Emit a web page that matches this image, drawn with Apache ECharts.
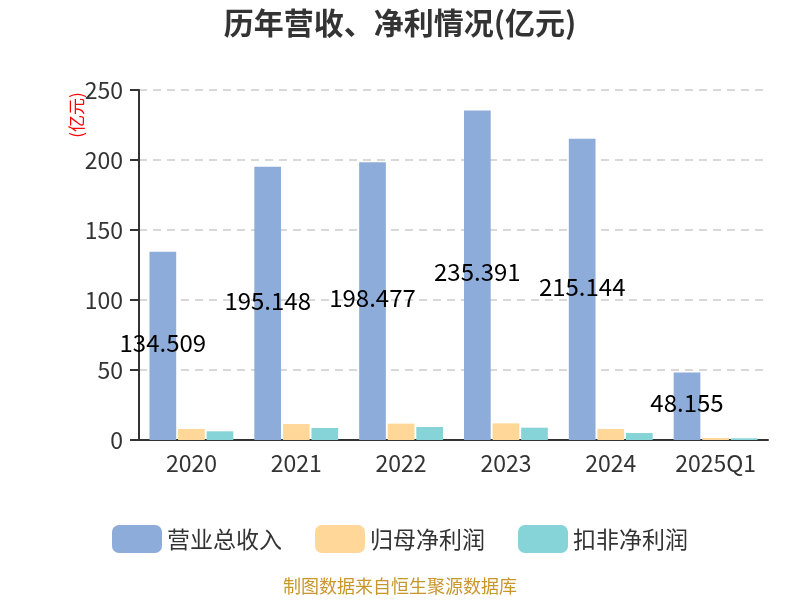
<!DOCTYPE html>
<html>
<head>
<meta charset="utf-8">
<script src="https://cdn.jsdelivr.net/npm/echarts@6/dist/echarts.min.js"></script>
<style>html,body{margin:0;padding:0;background:#fff}#c{width:800px;height:600px}</style>
</head>
<body>
<div id="c"></div>
<script>
const categories = ['2020', '2021', '2022', '2023', '2024', '2025Q1'];
const revenue = [134.509, 195.148, 198.477, 235.391, 215.144, 48.155];
const netProfit = [7.9, 11.4, 11.7, 11.9, 7.9, 1.4];
const deductedProfit = [6.2, 8.6, 9.3, 8.8, 5.0, 1.2];
const yTicks = [0, 50, 100, 150, 200, 250];

const font = '"Noto Sans CJK SC", "Noto Sans", sans-serif';
const chart = echarts.init(document.getElementById('c'));
chart.setOption({
  backgroundColor: '#fff',
  textStyle: { fontFamily: font },
  title: {
    text: '历年营收、净利情况(亿元)',
    left: 'center', top: 3,
    textStyle: { fontSize: 30, fontWeight: 'bold', color: '#333', fontFamily: font }
  },
  graphic: [
    {
      type: 'text', left: 'center', top: 577,
      style: { text: '制图数据来自恒生聚源数据库', fill: '#c9962b', fontSize: 18, fontFamily: font }
    },
    {
      type: 'text', x: 77, y: 115, rotation: Math.PI / 2,
      style: { text: '(亿元)', fill: '#ff0000', fontSize: 17, fontFamily: font, align: 'center', verticalAlign: 'middle' }
    }
  ],
  legend: {
    top: 520, left: 'center',
    itemWidth: 50, itemHeight: 28, itemGap: 33,
    textStyle: { fontSize: 23, color: '#333', fontFamily: font },
    data: ['营业总收入', '归母净利润', '扣非净利润']
  },
  grid: { left: 139, right: 32, top: 90, bottom: 160 },
  xAxis: {
    type: 'category', data: categories,
    axisLine: { lineStyle: { color: '#333', width: 2 } },
    axisTick: { interval: 0, length: 8, lineStyle: { color: '#333', width: 2 } },
    axisLabel: { interval: 0, fontSize: 23, color: '#333', margin: 12 }
  },
  yAxis: {
    type: 'value', min: yTicks[0], max: yTicks[yTicks.length - 1], interval: 50,
    axisLine: { show: true, lineStyle: { color: '#333', width: 2 } },
    axisTick: { show: true, length: 9, lineStyle: { color: '#333', width: 2 } },
    axisLabel: { fontSize: 23, color: '#333', margin: 16 },
    splitLine: { lineStyle: { type: [8, 6], color: '#ccc', width: 1.5 } }
  },
  series: [
    {
      name: '营业总收入', type: 'bar', data: revenue,
      barGap: '7%', barCategoryGap: '20%',
      itemStyle: { color: '#8eacd9' },
      label: { show: true, position: 'inside', offset: [0, -3], color: '#000', fontSize: 24, fontFamily: font }
    },
    { name: '归母净利润', type: 'bar', data: netProfit, itemStyle: { color: '#ffd899' } },
    { name: '扣非净利润', type: 'bar', data: deductedProfit, itemStyle: { color: '#86d4d8' } }
  ]
});
</script>
</body>
</html>
